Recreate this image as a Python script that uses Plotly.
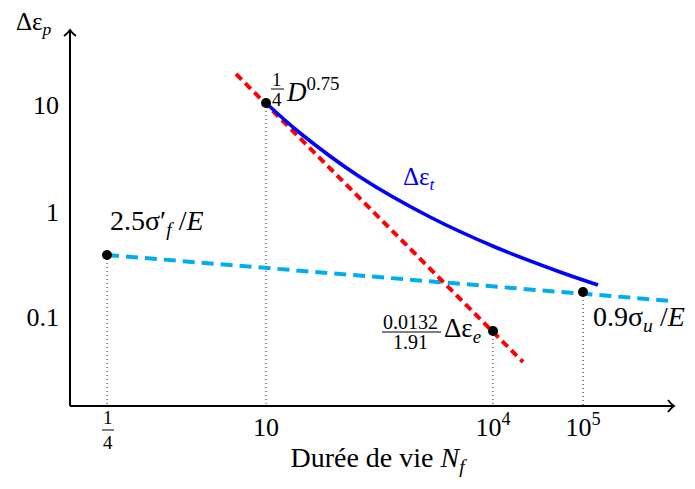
import plotly.graph_objects as go

# ---- schematic drawing coordinates (reference units: 1 unit = 1 px) ----
nf_tick_labels = ["10", "10<sup>4</sup>", "10<sup>5</sup>"]
nf_tick_pos = [196, 423, 513]
nf_frac_tick_pos = 37            # the "1/4" tick
strain_tick_labels = ["10", "1", "0.1"]
strain_tick_pos = [301, 194, 89]

# key points: 1/4, 10, 10^4, 10^5
point_x = [37, 196, 423, 513]
point_y = [151, 303, 75, 114]

# plastic line (red), elastic line (cyan), total strain curve (blue)
plastic_x = [166, 453]
plastic_y = [332, 44]
elastic_x = [37, 602]
elastic_y = [151, 105]
total_x = [196, 230, 290, 360, 425, 490, 528]
total_y = [303, 273, 229, 189, 159, 134, 121]

X0, X1 = -10, 625
Y0, Y1 = -3, 386
ML, MR, MT, MB = 60, 0, 20, 80
W, H = 695, 489
FONT = "Liberation Serif"


def fx(x_px):
    return (x_px - ML) / (W - ML - MR)


def fy(y_px):
    return (H - MB - y_px) / (H - MT - MB)


fig = go.Figure()

# dotted guide lines
gx, gy = [], []
for x, y in zip(point_x, point_y):
    gx += [x, x, None]
    gy += [y, 0, None]
fig.add_trace(go.Scatter(x=gx, y=gy, mode="lines",
                         line=dict(color="#333333", width=1.1, dash="1px,3px"),
                         hoverinfo="skip", showlegend=False))

fig.add_trace(go.Scatter(x=elastic_x, y=elastic_y, mode="lines",
                         line=dict(color="#00aeef", width=4, dash="12px,7px"),
                         showlegend=False))
fig.add_trace(go.Scatter(x=plastic_x, y=plastic_y, mode="lines",
                         line=dict(color="#ff0000", width=4, dash="8px,5px"),
                         showlegend=False))
fig.add_trace(go.Scatter(x=total_x, y=total_y, mode="lines",
                         line=dict(color="#0000ff", width=3.6, shape="spline", smoothing=1.0),
                         showlegend=False))
fig.add_trace(go.Scatter(x=point_x, y=point_y, mode="markers",
                         marker=dict(color="black", size=10),
                         showlegend=False))


def ppath(points):
    """SVG path in paper coordinates from reference-pixel points (M, Q ... )."""
    out = []
    for cmd, pts in points:
        out.append(cmd + " " + " ".join(f"{fx(a):.5f},{fy(b):.5f}" for a, b in pts))
    return " ".join(out)


# axes with arrows
shapes = [
    dict(type="line", xref="paper", yref="paper", x0=fx(70), y0=fy(406), x1=fx(673), y1=fy(406),
         line=dict(color="black", width=2)),
    dict(type="line", xref="paper", yref="paper", x0=fx(70), y0=fy(406), x1=fx(70), y1=fy(31),
         line=dict(color="black", width=2)),
    dict(type="path", xref="paper", yref="paper",
         path=ppath([("M", [(668, 400)]), ("Q", [(671, 404), (674, 406)]),
                     ("Q", [(671, 408), (668, 412)])]),
         line=dict(color="black", width=1.8)),
    dict(type="path", xref="paper", yref="paper",
         path=ppath([("M", [(64, 36)]), ("Q", [(68, 33), (70, 30)]),
                     ("Q", [(72, 33), (76, 36)])]),
         line=dict(color="black", width=1.8)),
    # fraction bars
    dict(type="line", xref="paper", yref="paper", x0=fx(102), x1=fx(114), y0=fy(430), y1=fy(430),
         line=dict(color="black", width=1)),
    dict(type="line", xref="paper", yref="paper", x0=fx(271), x1=fx(284), y0=fy(89), y1=fy(89),
         line=dict(color="black", width=1)),
    dict(type="line", xref="paper", yref="paper", x0=fx(382), x1=fx(441), y0=fy(332), y1=fy(332),
         line=dict(color="black", width=1)),
]

ann = []


def text(x_px, y_px, s, size=26, color="black", xanchor="left"):
    ann.append(dict(x=fx(x_px), y=fy(y_px), xref="paper", yref="paper", text=s,
                    showarrow=False, xanchor=xanchor, yanchor="middle",
                    font=dict(family=FONT, size=size, color=color)))


text(14, 24, "Δε<sub><i>p</i></sub>", size=25)
# 1/4 tick label
text(108, 418, "1", size=19, xanchor="center")
text(108, 442, "4", size=19, xanchor="center")
# 1/4 D^0.75
text(277, 80, "1", size=19, xanchor="center")
text(277, 99, "4", size=19, xanchor="center")
text(284, 90, "<i>D</i><sup>0.75</sup>", size=27)
# 2.5 sigma'_f / E
text(108, 223, "2.5σ′<sub><i>f</i></sub> /<i>E</i>", size=28)
# total strain
text(401, 178, "Δε<sub><i>t</i></sub>", size=25, color="#0000ff")
# 0.0132/1.91 delta eps_e
text(411, 322, "0.0132", size=20, xanchor="center")
text(411, 342, "1.91", size=20, xanchor="center")
text(442, 330, "Δε<sub><i>e</i></sub>", size=27)
# 0.9 sigma_u / E
text(591, 318, "0.9σ<sub><i>u</i></sub> /<i>E</i>", size=28)

fig.update_layout(
    width=W, height=H,
    margin=dict(l=ML, r=MR, t=MT, b=MB),
    paper_bgcolor="white", plot_bgcolor="white",
    shapes=shapes, annotations=ann,
    xaxis=dict(range=[X0, X1], showgrid=False, zeroline=False, showline=False,
               tickvals=nf_tick_pos, ticktext=nf_tick_labels, ticks="",
               tickfont=dict(family=FONT, size=26, color="black"),
               title=dict(text="Durée de vie <i>N</i><sub><i>f</i></sub>",
                          font=dict(family=FONT, size=28, color="black"), standoff=6)),
    yaxis=dict(range=[Y0, Y1], showgrid=False, zeroline=False, showline=False,
               tickvals=strain_tick_pos, ticktext=strain_tick_labels, ticks="",
               tickfont=dict(family=FONT, size=26, color="black")),
)

fig.write_html("out.html", config={"displayModeBar": False},
               post_script="document.body.style.margin='0';document.body.style.padding='0';")
